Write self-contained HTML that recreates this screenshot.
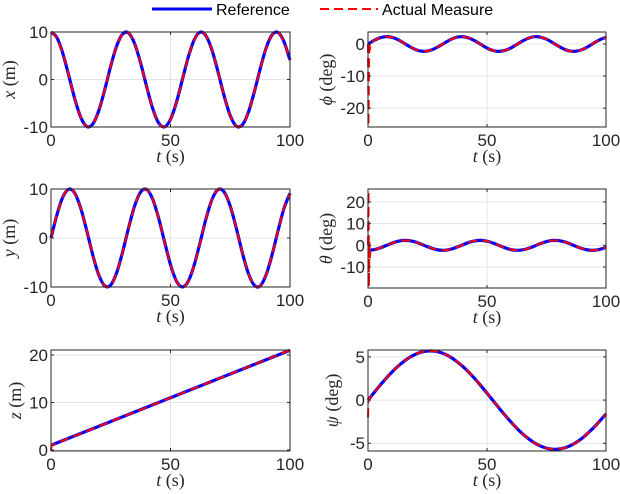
<!DOCTYPE html>
<html><head><meta charset="utf-8">
<style>
body{margin:0;background:#fff;}
svg{display:block;font-family:"Liberation Sans",sans-serif;}
.tick{font-size:17px;fill:#262626;}
.lab{font-family:"Liberation Serif",serif;font-size:18px;fill:#262626;}
</style></head>
<body>
<svg id="fig" width="620" height="494" viewBox="0 0 620 494">
<g>
<line x1="152" y1="9" x2="212" y2="9" stroke="#0000ff" stroke-width="3"/>
<text x="216" y="15" font-size="16" fill="#000">Reference</text>
<line x1="320" y1="9" x2="378" y2="9" stroke="#ff0000" stroke-width="2" stroke-dasharray="9,5"/>
<text x="382" y="15" font-size="16" fill="#000">Actual Measure</text>
</g>
</svg>
<script>
const tRef=[0,2.5,5,7.5,10,12.5,15,17.5,20,22.5,25,27.5,30,32.5,35,37.5,40,42.5,45,47.5,50,52.5,55,57.5,60,62.5,65,67.5,70,72.5,75,77.5,80,82.5,85,87.5,90,92.5,95,97.5,100];
const xVals=[10,8.78,5.40,0.71,-4.16,-8.01,-9.90,-9.36,-6.54,-2.11,2.84,7.09,9.60,9.77,7.54,3.47,-1.46,-6.02,-9.11,-9.97,-8.39,-4.76,0.04,4.83,8.44,9.98,9.07,5.95,1.37,-3.55,-7.60,-9.79,-9.58,-7.03,-2.75,2.20,6.60,9.39,9.89,7.95,4.08];
const yVals=[0,4.79,8.41,9.97,9.09,5.98,1.41,-3.51,-7.57,-9.78,-9.59,-7.06,-2.79,2.15,6.57,9.38,9.89,7.98,4.12,-0.75,-5.44,-8.80,-10.0,-8.75,-5.37,-0.66,4.20,8.04,9.91,9.35,6.50,2.07,-2.88,-7.12,-9.61,-9.78,-7.51,-3.43,1.50,6.06,9.13];
const zVals=[1,1.5,2,2.5,3,3.5,4,4.5,5,5.5,6,6.5,7,7.5,8,8.5,9,9.5,10,10.5,11,11.5,12,12.5,13,13.5,14,14.5,15,15.5,16,16.5,17,17.5,18,18.5,19,19.5,20,20.5,21];
const phiVals=[0,1.10,1.93,2.29,2.09,1.38,0.32,-0.81,-1.74,-2.25,-2.21,-1.62,-0.64,0.49,1.51,2.16,2.27,1.84,0.95,-0.17,-1.25,-2.02,-2.30,-2.01,-1.24,-0.15,0.97,1.85,2.28,2.15,1.50,0.48,-0.66,-1.64,-2.21,-2.25,-1.73,-0.79,0.35,1.39,2.10];
const thetaVals=[-2.30,-2.02,-1.24,-0.16,0.96,1.84,2.28,2.15,1.50,0.49,-0.65,-1.63,-2.21,-2.25,-1.73,-0.80,0.34,1.38,2.10,2.29,1.93,1.09,-0.01,-1.11,-1.94,-2.30,-2.09,-1.37,-0.32,0.82,1.75,2.25,2.20,1.62,0.63,-0.51,-1.52,-2.16,-2.27,-1.83,-0.94];
const psiVals=[0,0.85,1.69,2.48,3.22,3.89,4.46,4.94,5.31,5.56,5.68,5.68,5.55,5.30,4.92,4.43,3.85,3.18,2.44,1.64,0.80,-0.05,-0.90,-1.73,-2.52,-3.26,-3.92,-4.49,-4.97,-5.33,-5.57,-5.69,-5.68,-5.54,-5.28,-4.90,-4.41,-3.81,-3.14,-2.39,-1.59];
const tTrans=[0,0.2,0.4,0.6,0.8,1.0,1.3,1.7,2.5];
const xTrans=[10,9.98,9.94,9.87,9.78,9.66,9.48,9.13,8.78];
const yTrans=[0,0.4,0.8,1.2,1.6,2.0,2.6,3.4,4.79];
const zTrans=[0,0.8,1.05,1.1,1.15,1.2,1.26,1.34,1.5];
const phiTrans=[0,-25.5,-8,0.5,-2,-0.5,0.2,0.6,1.10];
const thetaTrans=[0,25,-19,2,-6,-3,-2.5,-2.3,-2.02];
const psiTrans=[-2,0,0.08,0.16,0.24,0.33,0.45,0.6,0.85];
const xTicks=[0,50,100];
const panels=[
 {name:'x',ref:xVals,tr:xTrans,rect:[51,32,290,127],ylim:[-10,10],yt:[-10,0,10],lab:'x',unit:'(m)'},
 {name:'phi',ref:phiVals,tr:phiTrans,rect:[368,32,606,127],ylim:[-25.9,3.75],yt:[-20,-10,0],lab:'ϕ',unit:'(deg)'},
 {name:'y',ref:yVals,tr:yTrans,rect:[51,189,290,287],ylim:[-10,10],yt:[-10,0,10],lab:'y',unit:'(m)'},
 {name:'theta',ref:thetaVals,tr:thetaTrans,rect:[368,189,606,288],ylim:[-19.7,26],yt:[-10,0,10,20],lab:'θ',unit:'(deg)'},
 {name:'z',ref:zVals,tr:zTrans,rect:[51,350,290,451],ylim:[-0.2,21.05],yt:[0,10,20],lab:'z',unit:'(m)'},
 {name:'psi',ref:psiVals,tr:psiTrans,rect:[368,350,606,451],ylim:[-5.9,5.8],yt:[-5,0,5],lab:'ψ',unit:'(deg)'}
];
const NS='http://www.w3.org/2000/svg';
const svg=document.getElementById('fig');
function mk(tag,attrs,parent){const e=document.createElementNS(NS,tag);for(const k in attrs)e.setAttribute(k,attrs[k]);(parent||svg).appendChild(e);return e;}
function pathD(pts){
 let d='M'+pts[0][0].toFixed(2)+','+pts[0][1].toFixed(2);
 for(let i=0;i<pts.length-1;i++){
  const p0=pts[Math.max(0,i-1)],p1=pts[i],p2=pts[i+1],p3=pts[Math.min(pts.length-1,i+2)];
  const c1=[p1[0]+(p2[0]-p0[0])/6,p1[1]+(p2[1]-p0[1])/6];
  const c2=[p2[0]-(p3[0]-p1[0])/6,p2[1]-(p3[1]-p1[1])/6];
  d+='C'+c1[0].toFixed(2)+','+c1[1].toFixed(2)+' '+c2[0].toFixed(2)+','+c2[1].toFixed(2)+' '+p2[0].toFixed(2)+','+p2[1].toFixed(2);
 }
 return d;
}
panels.forEach(p=>{
 const [x0,y0,x1,y1]=p.rect;
 const sx=t=>x0+(t-0)/(100-0)*(x1-x0);
 const sy=v=>y1-(v-p.ylim[0])/(p.ylim[1]-p.ylim[0])*(y1-y0);
 const g=mk('g',{});
 
 
 xTicks.forEach(t=>{const l=mk('line',{x1:sx(t),x2:sx(t),y1:y0,y2:y1,stroke:'#e3e3e3','stroke-width':1},g);
  });
 p.yt.forEach(v=>{const l=mk('line',{x1:x0,x2:x1,y1:sy(v),y2:sy(v),stroke:'#e3e3e3','stroke-width':1},g);
  });
 const refPts=tRef.map((t,i)=>[sx(t),sy(p.ref[i])]);
 const r=mk('path',{d:pathD(refPts),fill:'none',stroke:'#0000ff','stroke-width':3.2,'stroke-linejoin':'round'},g);
 
 
 const trPts=tTrans.map((t,i)=>[sx(t),sy(p.tr[i])]);
 let dAct='M'+trPts.map(q=>q[0].toFixed(2)+','+q[1].toFixed(2)).join('L');
 dAct+=pathD(refPts.slice(1)).replace(/^M[^C]*/,'L'+refPts[1][0].toFixed(2)+','+refPts[1][1].toFixed(2));
 const a=mk('path',{d:dAct,fill:'none',stroke:'#ff0000','stroke-width':2,'stroke-dasharray':'9,5'},g);
 
 
 const b=mk('rect',{x:x0,y:y0,width:x1-x0,height:y1-y0,fill:'none',stroke:'#262626','stroke-width':1},g);
 
 
 xTicks.forEach(t=>{
  mk('line',{x1:sx(t),x2:sx(t),y1:y1,y2:y1-3,stroke:'#262626'},g);
  mk('line',{x1:sx(t),x2:sx(t),y1:y0,y2:y0+3,stroke:'#262626'},g);
  const tx=mk('text',{x:sx(t),y:y1+19,'text-anchor':'middle',class:'tick'},g);tx.textContent=t;
  
 });
 p.yt.forEach(v=>{
  mk('line',{x1:x0,x2:x0+3,y1:sy(v),y2:sy(v),stroke:'#262626'},g);
  mk('line',{x1:x1,x2:x1-3,y1:sy(v),y2:sy(v),stroke:'#262626'},g);
  const tx=mk('text',{x:x0-3,y:sy(v)+6,'text-anchor':'end',class:'tick'},g);tx.textContent=v;
  
 });
 const xl=mk('text',{x:(x0+x1)/2,y:y1+35,'text-anchor':'middle',class:'lab'},g);
 xl.innerHTML='<tspan font-style="italic">t</tspan> (s)';
 
 const yx=x0-(p.yt.some(v=>v<=-10)?36:30), yc=(y0+y1)/2;
 const yl=mk('text',{x:yx,y:yc,'text-anchor':'middle',class:'lab',transform:'rotate(-90 '+yx+' '+yc+')'},g);
 yl.innerHTML='<tspan font-style="italic">'+p.lab+'</tspan> '+p.unit;
 
});
</script>
</body></html>
